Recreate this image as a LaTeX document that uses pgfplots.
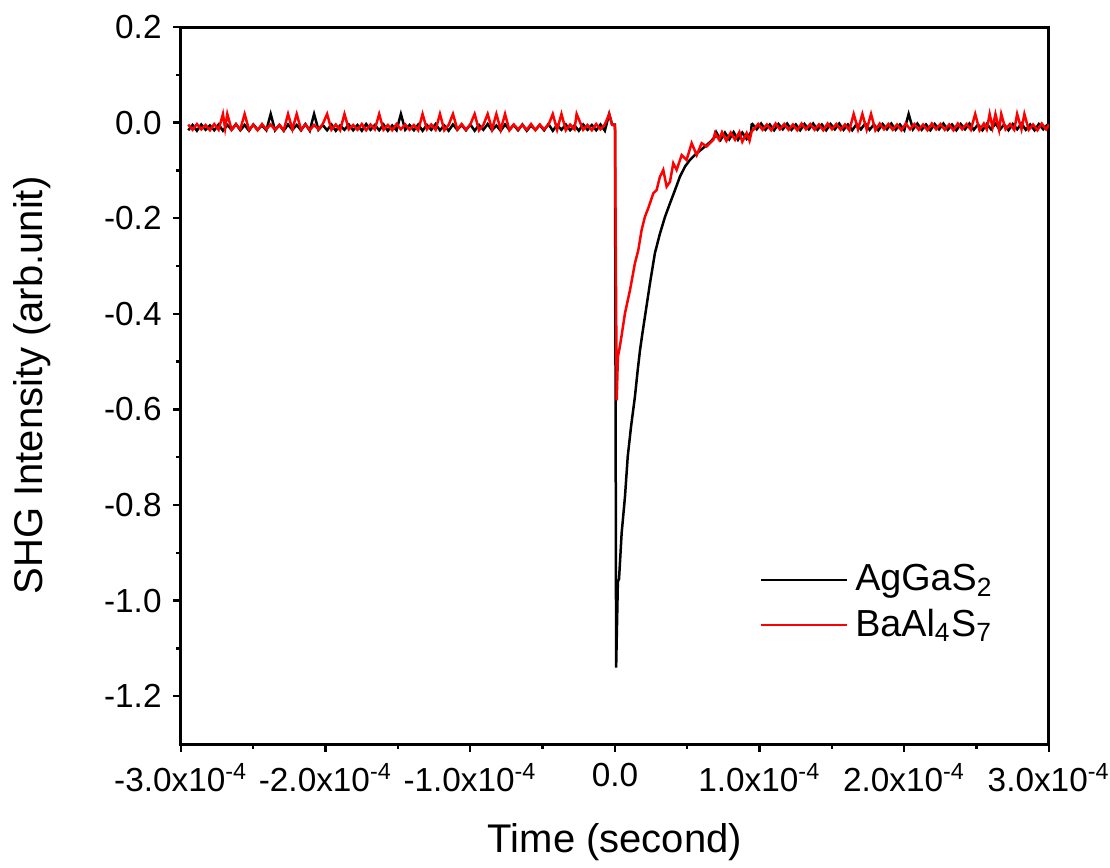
\documentclass[border=0pt]{standalone}
\usepackage{fontspec}
\setmainfont{Liberation Sans}
\usepackage{pgfplots}
\pgfplotsset{compat=1.18}

\begin{document}
\begin{tikzpicture}
\begin{axis}[
  name=main,
  scale only axis, width=260.4pt, height=215.1pt,
  xmin=-3, xmax=3, ymin=-1.3, ymax=0.2,
  xtick={-3,-2,-1,0,1,2,3},
  xticklabels={-3.0x10\textsuperscript{-4},-2.0x10\textsuperscript{-4},-1.0x10\textsuperscript{-4},0.0,
    1.0x10\textsuperscript{-4},2.0x10\textsuperscript{-4},3.0x10\textsuperscript{-4}},
  ytick={-1.2,-1,-0.8,-0.6,-0.4,-0.2,0,0.2},
  minor x tick num=1, minor y tick num=1,
  tick align=outside, xtick pos=bottom, ytick pos=left,
  major tick length=2.3pt, minor tick length=1.4pt,
  axis line style={line width=0.9pt},
  every tick/.style={black, line width=0.7pt},
  yticklabel style={/pgf/number format/.cd, fixed, fixed zerofill, precision=1, assume math mode=true},
  tick label style={font=\fontsize{10}{12}\selectfont},
  every axis x label/.style={at={(axis description cs:0.5,0)}, yshift=-29.4pt, anchor=center},
  every axis y label/.style={at={(axis description cs:0,0.5)}, xshift=-44.7pt, rotate=90, anchor=center},
  label style={font=\fontsize{12}{14}\selectfont},
  xlabel={Time (second)},
  ylabel={SHG Intensity (arb.unit)},
  legend style={at={(axis description cs:0.655,0.27)}, anchor=north west, draw=none, fill=none,
    font=\fontsize{11.3}{13.5}\selectfont},
  legend cell align=left,
  legend image code/.code={\draw[#1, line width=0.75pt] (0pt,0pt) -- (25.8pt,0pt);},
]
% time in units of 1e-4 s
\addplot[black, line width=0.75pt] coordinates {
(-2.95,-0.016)(-2.92,-0.005)(-2.89,-0.017)(-2.86,-0.004)(-2.83,-0.015)(-2.80,-0.006)(-2.77,-0.016)(-2.74,-0.004)
(-2.71,-0.017)(-2.68,-0.005)(-2.65,-0.015)(-2.62,-0.003)(-2.59,-0.016)(-2.56,-0.005)(-2.53,-0.017)(-2.50,-0.004)
(-2.47,-0.015)(-2.44,-0.006)(-2.41,-0.016)(-2.38,0.018)(-2.35,-0.016)(-2.32,-0.005)(-2.29,-0.017)(-2.26,-0.004)
(-2.23,-0.015)(-2.20,-0.005)(-2.17,-0.016)(-2.14,-0.003)(-2.11,-0.017)(-2.08,0.018)(-2.05,-0.015)(-2.02,-0.005)
(-1.99,-0.016)(-1.96,-0.004)(-1.93,-0.017)(-1.90,-0.006)(-1.87,-0.015)(-1.84,-0.004)(-1.81,-0.016)(-1.78,-0.005)
(-1.75,-0.017)(-1.72,-0.003)(-1.69,-0.015)(-1.66,-0.005)(-1.63,-0.016)(-1.60,-0.004)(-1.57,-0.017)(-1.54,-0.006)
(-1.51,-0.016)(-1.48,0.018)(-1.45,-0.015)(-1.42,-0.005)(-1.39,-0.016)(-1.36,-0.004)(-1.33,-0.017)(-1.30,-0.005)
(-1.27,-0.015)(-1.24,-0.003)(-1.21,-0.016)(-1.18,-0.006)(-1.15,-0.017)(-1.12,-0.004)(-1.09,-0.015)(-1.06,-0.005)
(-1.03,-0.016)(-1.00,-0.004)(-0.97,-0.017)(-0.94,-0.005)(-0.91,-0.015)(-0.88,-0.003)(-0.85,-0.016)(-0.82,-0.006)
(-0.79,-0.017)(-0.76,-0.004)(-0.73,-0.015)(-0.70,-0.005)(-0.67,-0.016)(-0.64,-0.004)(-0.61,-0.017)(-0.58,-0.006)
(-0.55,-0.015)(-0.52,-0.005)(-0.49,-0.016)(-0.46,-0.003)(-0.43,-0.017)(-0.40,-0.005)(-0.37,-0.015)(-0.34,-0.004)
(-0.31,-0.016)(-0.28,-0.006)(-0.25,-0.017)(-0.22,-0.004)(-0.19,-0.015)(-0.16,-0.005)(-0.13,-0.016)(-0.10,-0.004)
(-0.07,-0.017)(-0.04,0.018)(-0.02,-0.004)(0.000,-0.004)
(0.008,-1.140)(0.020,-0.960)(0.028,-0.955)(0.046,-0.859)(0.069,-0.783)(0.088,-0.699)(0.111,-0.636)(0.138,-0.573)
(0.157,-0.518)(0.173,-0.476)(0.190,-0.440)(0.207,-0.406)(0.242,-0.336)(0.276,-0.273)(0.311,-0.232)(0.346,-0.197)
(0.380,-0.169)(0.415,-0.141)(0.449,-0.113)(0.484,-0.092)(0.518,-0.078)(0.565,-0.064)(0.622,-0.050)(0.660,-0.040)
(0.690,-0.030)(0.70,-0.020)(0.73,-0.036)(0.76,-0.021)(0.79,-0.035)(0.82,-0.020)(0.85,-0.036)(0.88,-0.021)
(0.91,-0.034)(0.94,-0.020)(0.945,-0.004)
(0.95,-0.003)(0.98,-0.014)(1.01,-0.002)(1.04,-0.015)(1.07,-0.004)(1.10,-0.016)(1.13,-0.003)(1.16,-0.014)
(1.19,-0.002)(1.22,-0.015)(1.25,-0.004)(1.28,-0.016)(1.31,-0.003)(1.34,-0.014)(1.37,-0.002)(1.40,-0.015)
(1.43,-0.004)(1.46,-0.016)(1.49,-0.003)(1.52,-0.014)(1.55,-0.002)(1.58,-0.015)(1.61,-0.004)(1.64,-0.016)
(1.67,-0.003)(1.70,-0.014)(1.73,-0.002)(1.76,-0.015)(1.79,-0.004)(1.82,-0.016)(1.85,-0.003)(1.88,-0.014)
(1.91,-0.002)(1.94,-0.015)(1.97,-0.004)(2.00,-0.016)(2.03,0.018)(2.06,-0.014)(2.09,-0.002)(2.12,-0.015)
(2.15,-0.004)(2.18,-0.016)(2.21,-0.003)(2.24,-0.014)(2.27,-0.002)(2.30,-0.015)(2.33,-0.004)(2.36,-0.016)
(2.39,-0.003)(2.42,-0.014)(2.45,-0.002)(2.48,-0.015)(2.51,-0.004)(2.54,-0.016)(2.57,-0.003)(2.60,-0.014)
(2.63,-0.002)(2.66,-0.015)(2.69,-0.004)(2.72,-0.016)(2.75,-0.003)(2.78,-0.014)(2.81,-0.002)(2.84,-0.015)
(2.87,-0.004)(2.90,-0.016)(2.93,-0.003)(2.96,-0.014)(2.99,-0.004)
};
\addplot[red, line width=0.75pt] coordinates {
(-2.95,-0.004)(-2.92,-0.015)(-2.89,-0.003)(-2.86,-0.014)(-2.83,-0.005)(-2.80,-0.016)(-2.77,-0.003)(-2.74,-0.015)
(-2.71,0.018)(-2.695,-0.012)(-2.68,0.018)(-2.65,-0.015)(-2.62,-0.004)(-2.59,-0.014)(-2.56,0.018)(-2.53,-0.015)
(-2.50,-0.005)(-2.47,-0.016)(-2.44,-0.003)(-2.41,-0.014)(-2.38,-0.004)(-2.35,-0.015)(-2.32,-0.005)(-2.29,-0.016)
(-2.26,0.018)(-2.23,-0.014)(-2.20,0.018)(-2.17,-0.015)(-2.14,-0.004)(-2.11,-0.016)(-2.08,-0.005)(-2.05,-0.014)
(-2.02,-0.003)(-1.99,0.018)(-1.96,-0.015)(-1.93,-0.004)(-1.90,-0.016)(-1.87,0.018)(-1.84,-0.014)(-1.81,-0.005)
(-1.78,-0.015)(-1.75,-0.003)(-1.72,-0.016)(-1.69,-0.004)(-1.66,-0.014)(-1.63,0.018)(-1.60,-0.015)(-1.57,-0.005)
(-1.54,-0.016)(-1.51,-0.003)(-1.48,-0.014)(-1.45,-0.004)(-1.42,-0.015)(-1.39,-0.005)(-1.36,-0.016)(-1.33,0.018)
(-1.30,-0.014)(-1.27,-0.004)(-1.24,-0.015)(-1.21,0.018)(-1.18,-0.016)(-1.15,-0.005)(-1.12,0.018)(-1.09,-0.014)
(-1.06,-0.003)(-1.03,-0.015)(-1.00,-0.004)(-0.97,0.018)(-0.94,-0.016)(-0.91,-0.005)(-0.88,0.018)(-0.85,-0.014)
(-0.82,0.018)(-0.79,-0.015)(-0.76,0.018)(-0.73,-0.016)(-0.70,-0.004)(-0.67,-0.014)(-0.64,-0.005)(-0.61,-0.015)
(-0.58,-0.003)(-0.55,-0.016)(-0.52,-0.004)(-0.49,-0.014)(-0.46,-0.005)(-0.43,0.018)(-0.40,-0.015)(-0.37,0.018)
(-0.34,-0.016)(-0.31,-0.004)(-0.28,-0.014)(-0.265,0.018)(-0.22,-0.015)(-0.19,-0.005)(-0.16,-0.016)(-0.13,-0.003)
(-0.10,-0.014)(-0.07,-0.004)(-0.04,0.018)(-0.02,-0.005)(0.000,-0.006)
(0.004,-0.200)(0.012,-0.581)(0.020,-0.490)(0.030,-0.475)(0.046,-0.445)(0.069,-0.399)(0.104,-0.350)(0.138,-0.294)
(0.161,-0.267)(0.184,-0.225)(0.207,-0.197)(0.230,-0.179)(0.265,-0.148)(0.288,-0.141)(0.311,-0.113)(0.334,-0.099)
(0.357,-0.134)(0.380,-0.124)(0.403,-0.085)(0.426,-0.099)(0.461,-0.068)(0.495,-0.078)(0.530,-0.043)(0.565,-0.068)
(0.599,-0.043)(0.634,-0.050)(0.680,-0.036)(0.691,-0.022)(0.72,-0.036)(0.74,-0.020)(0.77,-0.038)(0.80,-0.021)
(0.83,-0.036)(0.86,-0.020)(0.88,-0.040)(0.91,-0.022)(0.93,-0.038)(0.945,-0.018)
(0.96,-0.014)(0.99,-0.003)(1.02,-0.015)(1.05,-0.004)(1.08,-0.016)(1.11,-0.002)(1.14,-0.014)(1.17,-0.003)
(1.20,-0.015)(1.23,-0.004)(1.26,-0.016)(1.29,-0.002)(1.32,-0.014)(1.35,-0.003)(1.38,-0.015)(1.41,-0.004)
(1.44,-0.016)(1.47,-0.002)(1.50,-0.014)(1.53,-0.003)(1.56,-0.015)(1.59,-0.004)(1.62,-0.016)(1.65,0.018)
(1.68,-0.014)(1.71,0.018)(1.74,-0.015)(1.77,0.018)(1.80,-0.016)(1.83,-0.002)(1.86,-0.014)(1.89,-0.003)
(1.92,-0.015)(1.95,-0.004)(1.98,-0.016)(2.01,-0.002)(2.04,-0.014)(2.07,-0.003)(2.10,-0.015)(2.13,-0.004)
(2.16,-0.016)(2.19,-0.002)(2.22,-0.014)(2.25,-0.003)(2.28,-0.015)(2.31,-0.004)(2.34,-0.016)(2.37,-0.002)
(2.40,-0.014)(2.43,-0.003)(2.46,-0.015)(2.49,0.018)(2.52,-0.016)(2.55,-0.002)(2.57,-0.014)(2.59,0.018)
(2.61,-0.010)(2.63,0.018)(2.655,-0.015)(2.67,0.018)(2.70,-0.014)(2.73,-0.003)(2.76,-0.015)(2.78,0.018)
(2.81,-0.014)(2.83,0.018)(2.86,-0.015)(2.89,-0.004)(2.92,-0.016)(2.95,-0.002)(2.98,-0.014)(3.00,-0.004)
};
\legend{AgGaS\textsubscript{2}, BaAl\textsubscript{4}S\textsubscript{7}}
\end{axis}
\pgfresetboundingbox
\path (main.south west) ++(-54.3pt,-37.2pt) rectangle ([shift={(278.7pt,223.2pt)}]main.south west);
\end{tikzpicture}
\end{document}
